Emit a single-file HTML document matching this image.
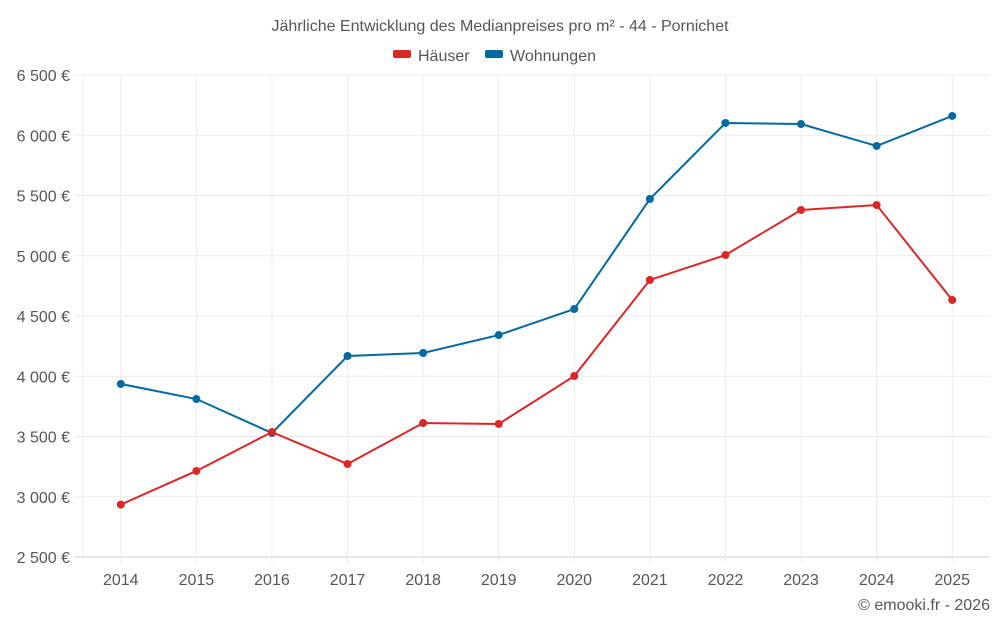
<!DOCTYPE html>
<html><head><meta charset="utf-8"><style>
body{margin:0;background:#fff;font-family:"Liberation Sans",sans-serif;}
svg text{font-family:"Liberation Sans",sans-serif;fill:#555;}
</style></head><body>
<svg id="chart" width="1000" height="625" xmlns="http://www.w3.org/2000/svg">
<text x="500" y="31" text-anchor="middle" font-size="16">Jährliche Entwicklung des Medianpreises pro m² - 44 - Pornichet</text>
<g>
<rect x="393" y="50" width="18" height="8" rx="2" fill="#dc2626"/>
<text x="418" y="61" font-size="16">Häuser</text>
<rect x="485" y="50" width="18" height="8" rx="2" fill="#0369a1"/>
<text x="510" y="61" font-size="16">Wohnungen</text>
</g>
<g id="grid"></g><g id="axes"></g><g id="series"></g>
<text x="990" y="610" text-anchor="end" font-size="16">© emooki.fr - 2026</text>
</svg>
<script>
const years=[2014,2015,2016,2017,2018,2019,2020,2021,2022,2023,2024,2025];
const haeuser=[2935,3214,3537,3272,3612,3604,4002,4799,5006,5380,5421,4633];
const wohnungen=[3936,3811,3529,4168,4193,4342,4558,5471,6102,6093,5911,6160];
const yTicks=[2500,3000,3500,4000,4500,5000,5500,6000,6500];
const yTickLabels=["2 500 €","3 000 €","3 500 €","4 000 €","4 500 €","5 000 €","5 500 €","6 000 €","6 500 €"];
const L=83,R=990,T=75,B=557,yMin=2500,yMax=6500;
const step=(R-L)/years.length;
const xs=i=>L+step*(i+0.5);
const ys=v=>B-(v-yMin)/(yMax-yMin)*(B-T);
const NS="http://www.w3.org/2000/svg";
function mk(tag,attrs,parent){const e=document.createElementNS(NS,tag);for(const k in attrs)e.setAttribute(k,attrs[k]);parent.appendChild(e);return e;}
const grid=document.getElementById('grid'),axes=document.getElementById('axes'),ser=document.getElementById('series');
yTicks.forEach((t,i)=>{
 const l=mk('line',{x1:75,x2:R,y1:ys(t),y2:ys(t),stroke:i==0?'#ccc':'#ebebeb'},grid);
 
 
 const tx=mk('text',{x:70,y:ys(t)+6,'text-anchor':'end','font-size':16},axes);
 tx.textContent=yTickLabels[i];
 
 
});
const al=mk('line',{x1:L,x2:L,y1:T,y2:B,stroke:'#ebebeb'},grid);


years.forEach((y,i)=>{
 const l=mk('line',{x1:xs(i),x2:xs(i),y1:T,y2:B+6,stroke:'#ebebeb'},grid);
 
 
 const tx=mk('text',{x:xs(i),y:585,'text-anchor':'middle','font-size':16},axes);
 tx.textContent=y;
 
 
});
function draw(data,color,name){
 const p=mk('polyline',{points:data.map((v,i)=>xs(i)+','+ys(v)).join(' '),fill:'none',stroke:color,'stroke-width':2},ser);
 
 
 data.forEach((v,i)=>{
  const c=mk('circle',{cx:xs(i),cy:ys(v),r:4,fill:color},ser);
  
  
 });
}
draw(wohnungen,'#0369a1','wohnungen');
draw(haeuser,'#dc2626','haeuser');
</script>
</body></html>
